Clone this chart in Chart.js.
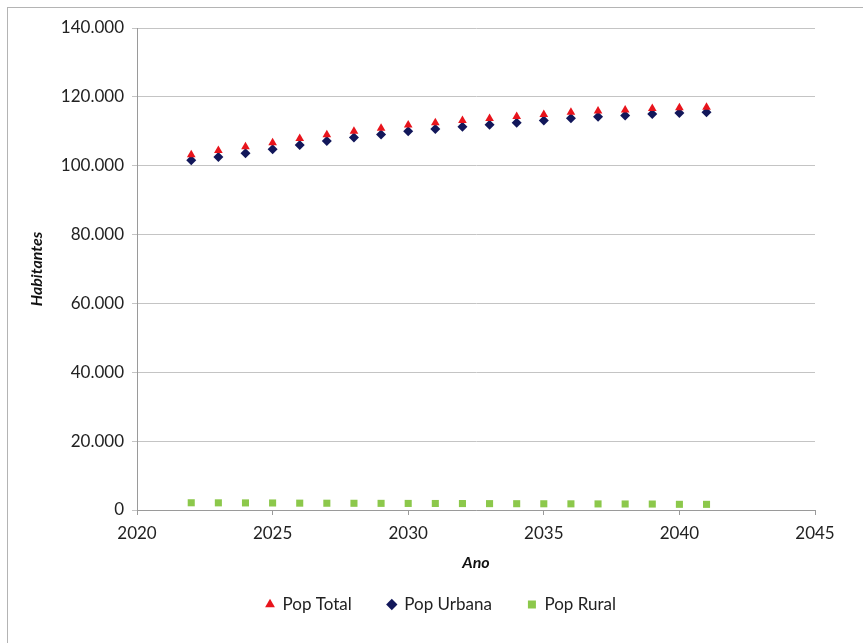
<!DOCTYPE html>
<html>
<head>
<meta charset="utf-8">
<script src="https://cdn.jsdelivr.net/npm/chart.js@4.4.1/dist/chart.umd.min.js"></script>
<style>
    html, body { margin: 0; padding: 0; background: #fff; overflow: hidden; }
    #frame { position: absolute; left: 7px; top: 7px; width: 900px; height: 700px; border: 1px solid #b4b4b4; }
    #wrap { position: absolute; left: 0; top: 0; width: 863px; height: 643px; }
</style>
</head>
<body>
<div id="frame"></div>
<div id="wrap"><canvas id="chart"></canvas></div>
<script>
// Dados
const anos = [2022, 2023, 2024, 2025, 2026, 2027, 2028, 2029, 2030, 2031,
              2032, 2033, 2034, 2035, 2036, 2037, 2038, 2039, 2040, 2041];
const popTotal = [103200, 104400, 105500, 106700, 107900, 109000, 110000, 110900, 111800, 112500,
                  113100, 113700, 114300, 114900, 115500, 115900, 116200, 116600, 116800, 117000];
const popUrbana = [101600, 102500, 103600, 104800, 106000, 107200, 108200, 109100, 110000, 110700,
                   111300, 111900, 112500, 113100, 113800, 114200, 114600, 115000, 115300, 115500];
const popRural = [2100, 2080, 2060, 2040, 1990, 1970, 1950, 1930, 1910, 1890,
                  1870, 1850, 1830, 1810, 1790, 1770, 1750, 1730, 1650, 1640];

const yTicks = [0, 20000, 40000, 60000, 80000, 100000, 120000, 140000];
const xTicks = [2020, 2025, 2030, 2035, 2040, 2045];

// Build points from the arrays
function toPoints(values) {
    return anos.map((ano, i) => ({ x: ano, y: values[i] }));
}

// Format with dot as thousands separator
function formatNum(v) {
    return String(v).replace(/\B(?=(\d{3})+(?!\d))/g, '.');
}

// Nudge the legend a bit to the right, like the original
const legendShift = {
    id: 'legendShift',
    afterLayout(chart) {
        chart.legend.left += 20;
        chart.legend.right += 20;
    }
};

const font = 'Lato, "Open Sans", sans-serif';

const ctx = document.getElementById('chart').getContext('2d');
new Chart(ctx, {
    type: 'scatter',
    plugins: [legendShift],
    data: {
        datasets: [
            {
                label: 'Pop Total',
                data: toPoints(popTotal),
                pointStyle: 'triangle',
                pointRadius: 5,
                backgroundColor: '#e8141c',
                borderColor: '#e8141c',
                borderWidth: 0
            },
            {
                label: 'Pop Urbana',
                data: toPoints(popUrbana),
                pointStyle: 'rectRot',
                pointRadius: 5,
                backgroundColor: '#12175a',
                borderColor: '#12175a',
                borderWidth: 0
            },
            {
                label: 'Pop Rural',
                data: toPoints(popRural),
                pointStyle: 'rect',
                pointRadius: 5,
                backgroundColor: '#8cc84b',
                borderColor: '#8cc84b',
                borderWidth: 0
            }
        ]
    },
    options: {
        responsive: true,
        maintainAspectRatio: false,
        animation: false,
        layout: { padding: { left: 27, right: 48, top: 28, bottom: 20 } },
        plugins: {
            tooltip: { enabled: false },
            legend: {
                position: 'bottom',
                labels: {
                    usePointStyle: true,
                    boxWidth: 8,
                    boxHeight: 8,
                    padding: 36,
                    color: '#222',
                    font: { family: font, size: 17 }
                }
            }
        },
        scales: {
            x: {
                type: 'linear',
                min: 2020,
                max: 2045,
                afterBuildTicks: (scale) => { scale.ticks = xTicks.map(v => ({ value: v })); },
                afterFit: (scale) => { scale.height = 50; },
                ticks: {
                    color: '#222',
                    font: { family: font, size: 17 },
                    padding: 8,
                    callback: (v) => String(v)
                },
                grid: { drawOnChartArea: false, drawTicks: true, tickLength: 5, color: '#9a9a9a' },
                border: { color: '#9a9a9a', width: 1 },
                title: {
                    display: true,
                    text: 'Ano',
                    color: '#111',
                    font: { family: font, size: 16, weight: 'bold', style: 'italic' },
                    padding: { top: 4, bottom: -12 }
                }
            },
            y: {
                min: 0,
                max: 140000,
                afterBuildTicks: (scale) => { scale.ticks = yTicks.map(v => ({ value: v })); },
                afterFit: (scale) => { scale.width = 110; },
                ticks: {
                    color: '#222',
                    font: { family: font, size: 17 },
                    padding: 8,
                    callback: (v) => formatNum(v)
                },
                grid: { color: '#c4c4c4', tickLength: 5, lineWidth: 1 },
                border: { color: '#9a9a9a', width: 1 },
                title: {
                    display: true,
                    text: 'Habitantes',
                    color: '#111',
                    font: { family: font, size: 16, weight: 'bold', style: 'italic' },
                    padding: { top: 0, bottom: 0 }
                }
            }
        }
    }
});
</script>
</body>
</html>
